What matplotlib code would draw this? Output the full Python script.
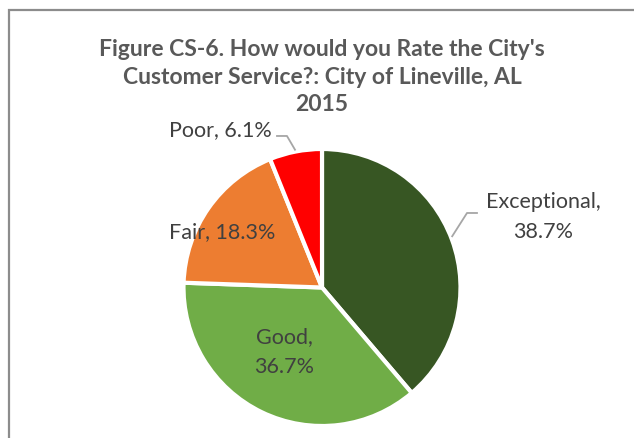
import matplotlib
matplotlib.use('Agg')
import matplotlib.pyplot as plt
from matplotlib.patches import Rectangle

labels = ['Exceptional', 'Good', 'Fair', 'Poor']
values = [38.7, 36.7, 18.3, 6.1]
colors = ['#375623', '#70AD47', '#ED7D31', '#FF0000']

title = "Figure CS-6. How would you Rate the City's\nCustomer Service?: City of Lineville, AL\n2015"

# label placement (in pie radius units, relative to centre)
label_pos = {
    'Exceptional': (1.596, 0.509),
    'Good': (-0.274, -0.466),
    'Fair': (-0.722, 0.40),
    'Poor': (-0.736, 1.137),
}

W, H = 634, 438
cx, cy, R = 322, 287.5, 138.5

fig = plt.figure(figsize=(W / 100, H / 100), dpi=100)
ax = fig.add_axes([0, 0, 1, 1])

wedges, _ = ax.pie(values, colors=colors, startangle=90, counterclock=False,
                   radius=1, center=(0, 0), frame=True,
                   wedgeprops=dict(edgecolor='white', linewidth=3))
ax.set_xlim(-cx / R, (W - cx) / R)
ax.set_ylim(-(H - cy) / R, cy / R)
ax.set_aspect('auto')
ax.axis('off')

font = 'Lato'
for lab, v in zip(labels, values):
    x, y = label_pos[lab]
    if lab in ('Exceptional', 'Good'):
        s = '%s,\n%.1f%%' % (lab, v)
    else:
        s = '%s, %.1f%%' % (lab, v)
    ax.text(x, y, s, ha='center', va='center', fontsize=15.5, color='#404040',
            family=font, linespacing=1.6)

# leader lines
ax.plot([0.94, 1.047, 1.119], [0.37, 0.538, 0.538], color='#A6A6A6', lw=1.3)
ax.plot([-0.325, -0.253, -0.195], [1.094, 1.094, 0.995], color='#A6A6A6', lw=1.3)

fig.text(cx / W, 1 - 77 / H, title, ha='center', va='center', fontsize=16.5,
         fontweight='bold', color='#595959', family=font, linespacing=1.38)

# chart border
fig.patches.append(Rectangle((8.5 / W, -0.1), 1.2, 1 - 9.5 / H + 0.1,
                             transform=fig.transFigure, fill=False,
                             edgecolor='#8C8C8C', lw=1.6))

fig.savefig('out.png', dpi=100)
